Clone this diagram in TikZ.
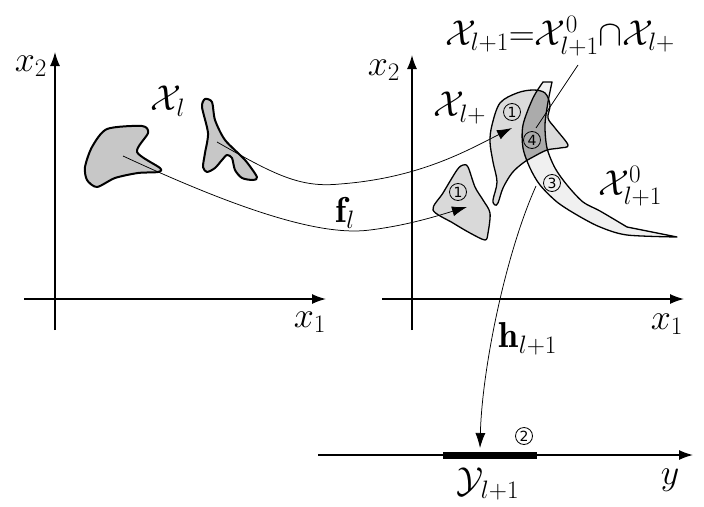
\RequirePackage{fix-cm}
\documentclass[tikz,border=0pt]{standalone}
\usepackage{fontspec}
\newfontfamily\dvfont{DejaVu Sans}
\usetikzlibrary{arrows.meta}
\begin{document}
\begin{tikzpicture}[x=1pt,y=-1pt,
  axis/.style={line width=1.5pt,-{Latex[length=14pt,width=10pt]}},
  mapline/.style={line width=0.75pt},
  maparrow/.style={line width=0.75pt,-{Latex[length=15pt,width=10pt]}},
  lbl/.style={font=\fontsize{36}{42}\selectfont, inner sep=0pt},
  num/.style={draw, circle, line width=0.8pt, minimum size=17pt, inner sep=0pt, font=\dvfont\fontsize{14}{14}\selectfont},
  leftblob/.style={draw, line width=2pt, fill=black!22, line join=round},
  rightblob/.style={draw, line width=1.3pt, line join=round}]
\path[use as bounding box] (0,0) rectangle (704,506);

% ---- left axes
\draw[axis] (55,330) -- (55,52);
\draw[axis] (24,299) -- (326,299);
\node[lbl] (lx2) at (31,66) {$x_2$};
\node[lbl] (lx1) at (310,322) {$x_1$};

% ---- right axes
\draw[axis] (412,330) -- (412,55);
\draw[axis] (382,299) -- (684,299);
\node[lbl] (rx2) at (384,70) {$x_2$};
\node[lbl] (rx1) at (667,324) {$x_1$};

% ---- left blobs
\draw[leftblob] plot[smooth cycle, tension=0.45] coordinates {(107,129) (142,126) (148,133) (137,152) (160,168) (158,172) (138,173) (115,178) (97,187) (87,180) (85,167) (92,147)};
\draw[leftblob] plot[smooth cycle, tension=0.45] coordinates {(205,99) (212,102) (215,120) (225,140) (245,160) (257,177) (253,180) (242,178) (235,170) (232,158) (227,155) (222,160) (215,168) (207,172) (203,167) (205,153) (208,133) (202,107)};
\node[lbl] (Xl) at (168,101) {$\mathcal{X}_l$};

% ---- right blobs
\draw[rightblob, fill=black!15] plot[smooth cycle, tension=0.5] coordinates {(463,165) (468,167) (475,187) (483,200) (490,213) (488,233) (485,240) (470,233) (453,223) (433,210) (443,193) (457,170)};

\def\fishpath{plot[smooth cycle, tension=0.55] coordinates {(492,125) (500,103) (517,93) (533,90) (545,93) (550,105) (548,118) (555,128) (568,145) (560,148) (547,150) (533,157) (523,163) (512,173) (503,188) (498,203) (495,205) (493,200) (497,182) (493,162) (490,142)}}
\def\crescpath{plot[smooth] coordinates {(543,82) (533,98) (523,125) (523,148) (530,168) (540,185) (557,202) (577,215) (600,227) (627,235) (677,237)} -- plot[smooth] coordinates {(627,227) (600,211) (583,202) (567,185) (555,168) (547,148) (545,125) (548,102) (552,82)} -- cycle}

\fill[black!14] \fishpath;
\fill[black!6] \crescpath;
\begin{scope}
  \clip \fishpath;
  \fill[black!33] \crescpath;
\end{scope}
\draw[rightblob] \fishpath;
\draw[rightblob] \crescpath;

% ---- numbers
\node[num] (n1a) at (512,112) {1};
\node[num] (n1b) at (458,192) {1};
\node[num] (n4) at (532,140) {4};
\node[num] (n3) at (552,183) {3};
\node[num] (n2) at (524,436) {2};

% ---- labels right
\node[lbl] (Xlp) at (460,108) {$\mathcal{X}_{l+}$};
\node[lbl] (X0) at (630,186) {$\mathcal{X}^0_{l+1}$};
\node[lbl] (top) at (560,36) {$\mathcal{X}_{l+1}{=}\mathcal{X}^0_{l+1}{\cap}\mathcal{X}_{l+}$};
\coordinate (lead) at (578,65);
\coordinate (leadend) at (536,128);
\draw[mapline] (lead) -- (leadend);

% ---- mappings f
\coordinate (fa1) at (123,156);
\coordinate (fa2) at (467,207);
\coordinate (fb1) at (217,142);
\coordinate (fb2) at (512,128);
\draw[maparrow] (fa1) .. controls (250,215) and (325,236) .. (370,230) .. controls (410,225) and (440,215) .. (fa2);
\draw[maparrow] (fb1) .. controls (275,175) and (300,188) .. (340,184) .. controls (420,178) and (468,150) .. (fb2);
\node[lbl] (fl) at (345,213) {$\mathbf{f}_l$};

% ---- y axis
\draw[axis] (318,455) -- (693,455);
\draw[line width=7pt] (443,455) -- (537,455);
\node[lbl] (yl) at (670,480) {$y$};
\node[lbl] (Yl) at (488,484) {$\mathcal{Y}_{l+1}$};

% ---- mapping h
\coordinate (ha) at (536,186);
\coordinate (hb) at (480,448);
\draw[maparrow] (ha) .. controls (505,255) and (482,370) .. (hb);
\node[lbl] (hl) at (528,339) {$\mathbf{h}_{l+1}$};
\end{tikzpicture}
\end{document}
